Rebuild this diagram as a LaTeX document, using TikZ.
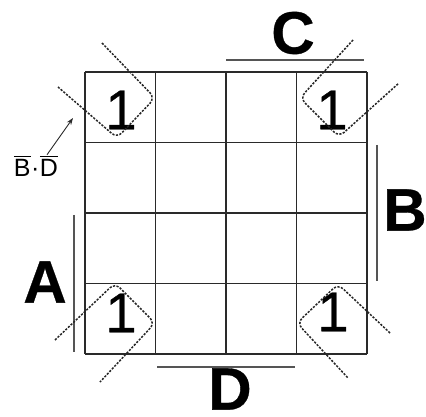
\documentclass[tikz,border=0pt]{standalone}
\usepackage{fontspec}
\setmainfont{Liberation Sans}
\newfontfamily\onefont{Liberation Sans}[FakeBold=0.7]
\newfontfamily\varfont{Liberation Sans Bold}[FakeBold=0.5]
\usepackage{tikz}
\usetikzlibrary{arrows.meta}
\definecolor{inkgray}{HTML}{2A2A2A}
\newcommand{\barred}[1]{\leavevmode\vbox{\hrule height 1.1pt \kern1.8pt \hbox{#1}}}

\begin{document}
\begin{tikzpicture}[x=1pt, y=-1pt,
    gridline/.style={draw=inkgray, line width=1.4pt},
    varbar/.style={draw=inkgray!80, line width=1.4pt},
    varname/.style={font=\fontsize{60}{60}\varfont, text=black, inner sep=0pt},
    cellone/.style={font=\fontsize{56}{56}\onefont, text=black, inner sep=0pt},
    loopline/.style={draw=black!85, line width=1.5pt, dash pattern=on 2.2pt off 1.4pt, rounded corners=7pt}]
    \useasboundingbox (0,0) rectangle (426,417);

    % Karnaugh grid
    \foreach \gx in {85,155.5,226,296.5,367}
        \draw[gridline] (\gx,72) -- (\gx,354);
    \foreach \gy in {72,142.5,213,283.5,354}
        \draw[gridline] (85,\gy) -- (367,\gy);

    % Ones in the corner cells
    \node[cellone] (oneTL) at (121,110) {1};
    \node[cellone] (oneTR) at (332,110) {1};
    \node[cellone] (oneBL) at (121,313) {1};
    \node[cellone] (oneBR) at (333,312) {1};

    % Variable bars
    \draw[varbar] (226,60) -- (364,60);
    \node[varname] (varC) at (293,33) {C};
    \draw[varbar] (377,145) -- (377,281);
    \node[varname] (varB) at (405,210) {B};
    \draw[varbar] (74,215) -- (74,352);
    \node[varname] (varA) at (45,282) {A};
    \draw[varbar] (157,367) -- (295,367);
    \node[varname] (varD) at (230,389) {D};

    % Loops around the four corners
    \draw[loopline] (102,43) -- (155,98) -- (117,138) -- (58,87);
    \draw[loopline] (353,40) -- (300,98) -- (339,137) -- (399,83);
    \draw[loopline] (55,340) -- (115,283) -- (155,323) -- (100,382);
    \draw[loopline] (390,333) -- (338,284) -- (297,323) -- (348,378);

    % Term label
    \node[font=\fontsize{25}{25}\selectfont, inner sep=1pt] (term) at (36,166)
        {\barred{B}\kern0.5pt·\kern0.5pt\barred{D}};
    \coordinate (loopTL) at (73,118);
    \draw[-{Stealth[length=7pt,width=5pt]}, inkgray, line width=0.9pt] ([xshift=11pt]term.north) -- (loopTL);
\end{tikzpicture}
\end{document}
